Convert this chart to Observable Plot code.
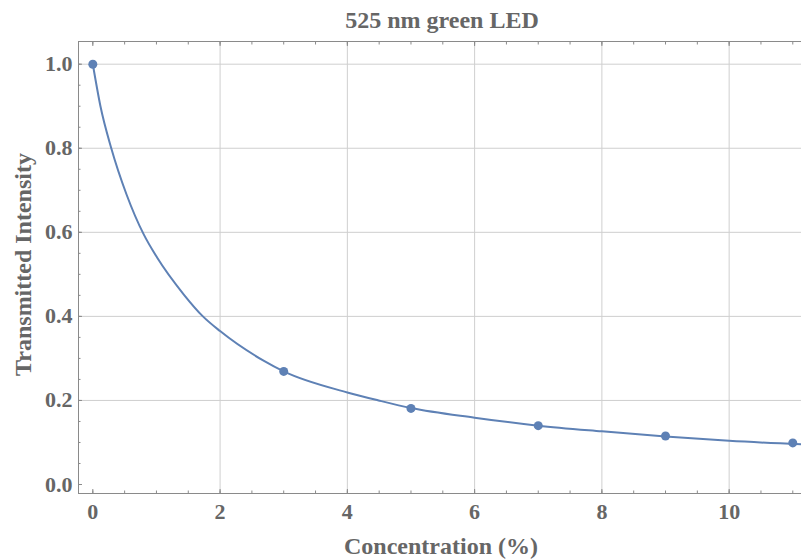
<!DOCTYPE html>
<html>
<head>
<meta charset="utf-8">
<script src="https://cdn.jsdelivr.net/npm/d3@7"></script>
<script src="https://cdn.jsdelivr.net/npm/@observablehq/plot@0.6"></script>
<style>
  html, body { margin: 0; padding: 0; background: #fff; }
</style>
</head>
<body>
<div id="chart"></div>
<script>
// Measured points
const pointX = [0, 3, 5, 7, 9, 11];
const pointY = [1.0, 0.269, 0.181, 0.140, 0.1155, 0.099];

// Fitted curve
const curveX = [0, 0.12, 0.29, 0.53, 0.80, 1.01, 1.43, 1.73, 2.0, 2.69, 3.0, 4.0, 4.49, 5.0, 6.0, 7.0, 8.0, 9.0, 10.0, 11.14];
const curveY = [1.0, 0.9, 0.8, 0.69, 0.595, 0.54, 0.452, 0.40, 0.365, 0.294, 0.269, 0.219, 0.20, 0.182, 0.159, 0.140, 0.1265, 0.1145, 0.104, 0.0955];

// Ticks
const xMajor = [0, 2, 4, 6, 8, 10];
const xMinor = d3.range(0, 11.01, 0.5);
const yMajor = [0, 0.2, 0.4, 0.6, 0.8, 1.0];
const yMinor = d3.range(0, 1.001, 0.05).map(v => +v.toFixed(2));
const xGrid = [2, 4, 6, 8, 10];
const yGrid = [0.2, 0.4, 0.6, 0.8, 1.0];

const titleText = "525 nm green LED";
const xLabel = "Concentration (%)";
const yLabel = "Transmitted Intensity";

const points = pointX.map((x, i) => ({x, y: pointY[i]}));
const curve = curveX.map((x, i) => ({x, y: curveY[i]}));

const blue = "#5E81B5";
const textGray = "#666666";
const tickGray = "#8a8a8a";
const font = "'Liberation Serif', 'Times New Roman', serif";

const chart = Plot.plot({
  width: 801,
  height: 559,
  marginLeft: 78,
  marginRight: 0,
  marginTop: 41,
  marginBottom: 66,
  style: {fontFamily: font, background: "#fff", overflow: "visible"},
  x: {domain: [-0.225, 11.137], axis: null},
  y: {domain: [-0.0214, 1.054], axis: null},
  marks: [
    Plot.gridX(xGrid, {stroke: "#cfcfcf", strokeOpacity: 1, strokeWidth: 1}),
    Plot.gridY(yGrid, {stroke: "#cfcfcf", strokeOpacity: 1, strokeWidth: 1}),
    Plot.frame({stroke: tickGray, strokeWidth: 1, insetRight: -3}),
    // inward ticks
    Plot.axisX(xMajor, {anchor: "bottom", tickSize: -4, text: null, label: null, stroke: tickGray}),
    Plot.axisX(xMinor, {anchor: "bottom", tickSize: -2.5, text: null, label: null, stroke: tickGray}),
    Plot.axisX(xMajor, {anchor: "top", tickSize: -4, text: null, label: null, stroke: tickGray}),
    Plot.axisX(xMinor, {anchor: "top", tickSize: -2.5, text: null, label: null, stroke: tickGray}),
    Plot.axisY(yMajor, {anchor: "left", tickSize: -4, text: null, label: null, stroke: tickGray}),
    Plot.axisY(yMinor, {anchor: "left", tickSize: -2.5, text: null, label: null, stroke: tickGray}),
    // tick labels
    Plot.axisX(xMajor, {anchor: "bottom", tickSize: 0, tickPadding: 10, label: null,
      fontSize: 22, fontWeight: "bold", fill: textGray, fontFamily: font}),
    Plot.axisY(yMajor, {anchor: "left", tickSize: 0, tickPadding: 6, label: null,
      tickFormat: d => d.toFixed(1),
      fontSize: 22, fontWeight: "bold", fill: textGray, fontFamily: font}),
    // curve and points
    Plot.line(curve, {x: "x", y: "y", stroke: blue, strokeWidth: 2, curve: "monotone-x", clip: true}),
    Plot.dot(points, {x: "x", y: "y", r: 4.5, fill: blue, stroke: null}),
    // title and axis labels
    Plot.text([titleText], {frameAnchor: "top", dy: -14, dx: 2, lineAnchor: "bottom",
      fontSize: 24, fontWeight: "bold", fill: textGray, fontFamily: font}),
    Plot.text([xLabel], {frameAnchor: "bottom", dy: 60, dx: 1, lineAnchor: "bottom",
      fontSize: 24, fontWeight: "bold", fill: textGray, fontFamily: font}),
    Plot.text([yLabel], {frameAnchor: "left", dx: -55, dy: -3, rotate: -90,
      textAnchor: "middle", lineAnchor: "middle",
      fontSize: 24, fontWeight: "bold", fill: textGray, fontFamily: font})
  ]
});
document.getElementById("chart").appendChild(chart);
</script>
</body>
</html>
